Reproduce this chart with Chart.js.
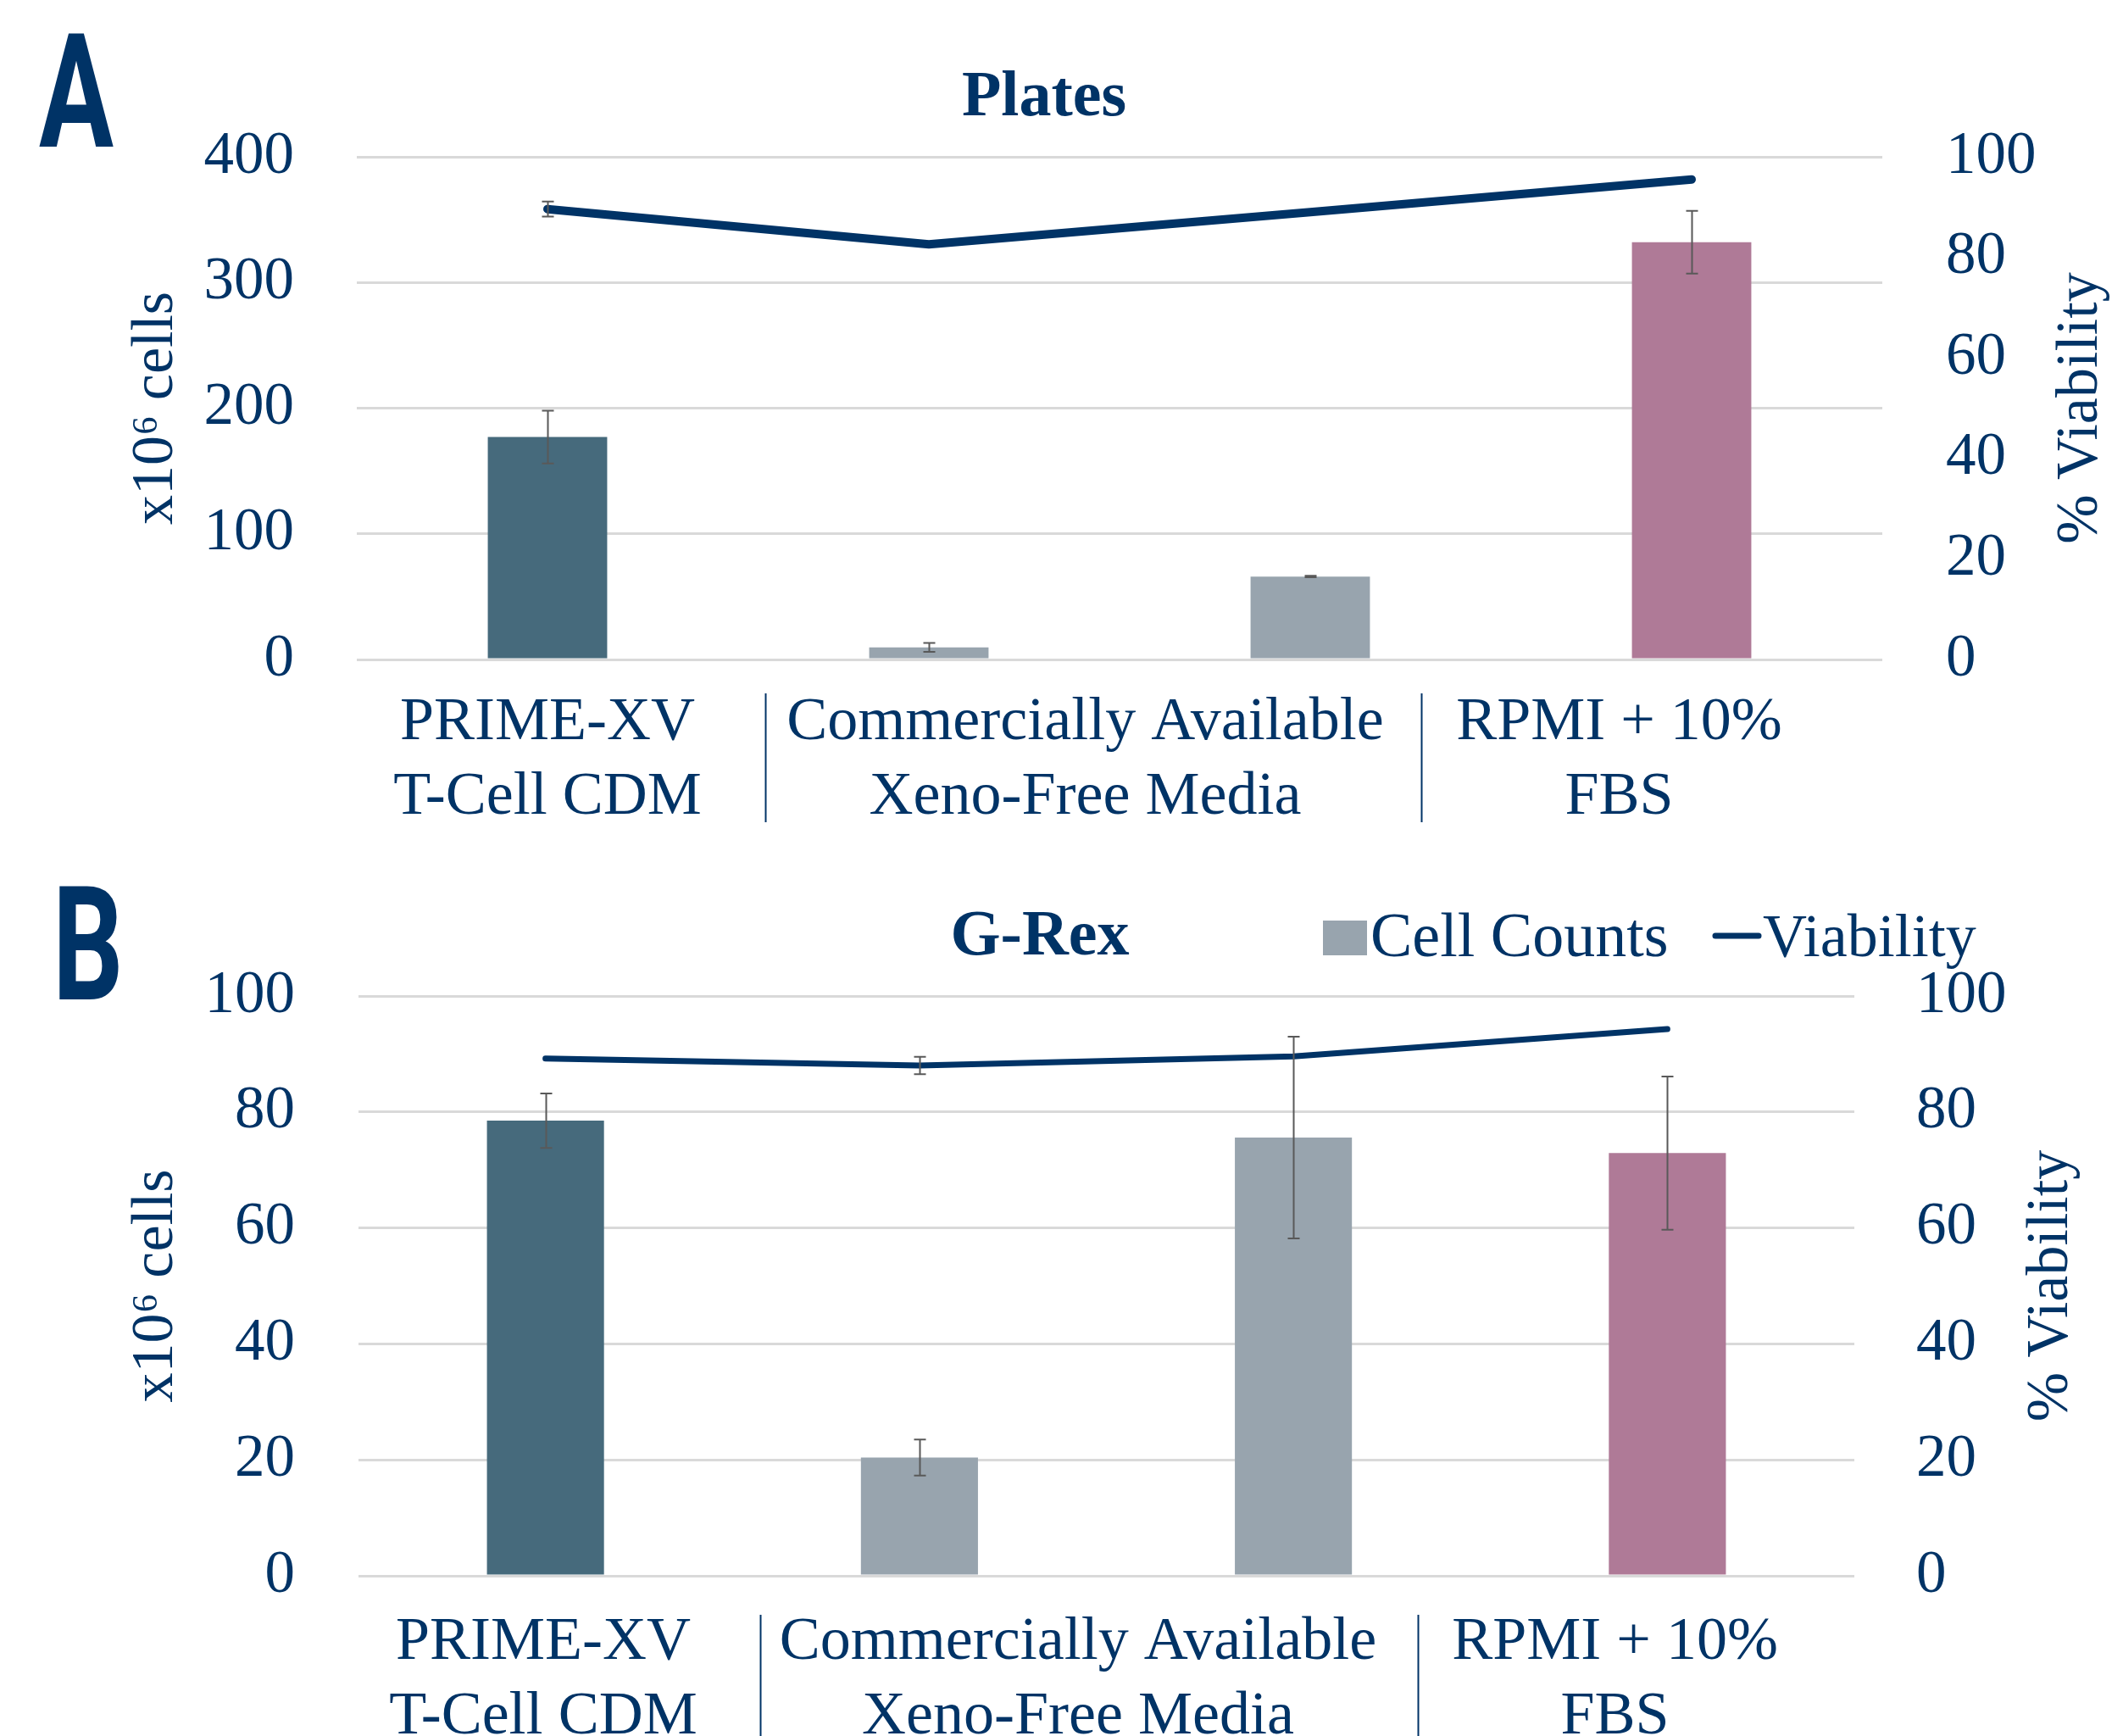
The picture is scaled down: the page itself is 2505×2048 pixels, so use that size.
<!DOCTYPE html>
<html><head><meta charset="utf-8">
<script src="https://cdn.jsdelivr.net/npm/chart.js@4.4.1/dist/chart.umd.min.js"></script>
<style>
html,body{margin:0;padding:0;background:#fff;}
#wrap{position:relative;width:2505px;height:2048px;overflow:hidden;background:#fff;}
canvas{position:absolute;left:0;}
#cA{top:0;} #cB{top:1000px;}
.panel{position:absolute;font-family:Roboto,"Liberation Sans",sans-serif;font-weight:700;font-size:187px;line-height:1;color:#003366;transform:scaleX(0.70);transform-origin:0 0;}
</style></head><body>
<div id="wrap">
<canvas id="cA" width="2505" height="1000"></canvas>
<canvas id="cB" width="2505" height="1048"></canvas>
<div class="panel" style="left:46px;top:16px">A</div>
<div class="panel" style="left:62px;top:1022px">B</div>
</div>
<script>
// ---------- data ----------
const categories = ['PRIME-XV T-Cell CDM', 'Xeno-Free Media (1)', 'Xeno-Free Media (2)', 'RPMI + 10% FBS'];
const groupLabels = [['PRIME-XV', 'T-Cell CDM'], ['Commercially Available', 'Xeno-Free Media'], ['RPMI + 10%', 'FBS']];

const platesCounts = [177, 9.6, 66, 332];
const platesCountsErr = [21, 3.5, 0.6, 25];
const platesViability = [89.6, 82.6, 89.0, 95.5];
const platesViabilityErr = [1.5, 0, 0, 0];

const grexCounts = [78.5, 20.4, 75.6, 72.9];
const grexCountsErr = [4.7, 3.1, 17.4, 13.2];
const grexViability = [89.2, 88.0, 89.6, 94.3];
const grexViabilityErr = [0, 1.5, 0, 0];

const platesLeftTicks = [0, 100, 200, 300, 400];
const grexLeftTicks = [0, 20, 40, 60, 80, 100];
const viabilityTicks = [0, 20, 40, 60, 80, 100];

// ---------- styles ----------
const NAVY = '#003366';
const ERR = '#595959';
const GRID = '#D9D9D9';
const SERIF = '"Liberation Serif", "DejaVu Serif", serif';
const barColors = ['#466A7C', '#98A4AE', '#98A4AE', '#AF7A97'];

function buildChart(id, p) {
  const panel = {
    id: 'panel_' + id,
    afterDatasetsDraw(chart) {
      const ctx = chart.ctx, xS = chart.scales.x;
      const sets = [[p.counts, p.countsErr, 'y'], [p.viab, p.viabErr, 'y1']];
      ctx.save();
      ctx.strokeStyle = ERR; ctx.lineWidth = 2;
      sets.forEach(([vals, errs, ax]) => {
        const yS = chart.scales[ax];
        vals.forEach((v, i) => {
          const e = errs[i]; if (!e) return;
          const x = Math.round(xS.getPixelForValue(i)) + 0.5;
          const yt = yS.getPixelForValue(v + e), yb = yS.getPixelForValue(v - e);
          ctx.beginPath();
          ctx.moveTo(x, yt); ctx.lineTo(x, yb);
          ctx.moveTo(x - 7, yt); ctx.lineTo(x + 7, yt);
          ctx.moveTo(x - 7, yb); ctx.lineTo(x + 7, yb);
          ctx.stroke();
        });
      });
      ctx.restore();
    },
    afterDraw(chart) {
      const ctx = chart.ctx, a = chart.chartArea, xS = chart.scales.x;
      ctx.save();
      ctx.fillStyle = NAVY;
      ctx.textAlign = 'center'; ctx.textBaseline = 'alphabetic';
      ctx.font = 'bold 76px ' + SERIF;
      ctx.fillText(p.title, p.titleX, p.titleBase);
      // right axis title (reads bottom to top)
      ctx.save();
      ctx.translate(p.rightTitleX, (a.top + a.bottom) / 2);
      ctx.rotate(-Math.PI / 2);
      ctx.font = '70px ' + SERIF; ctx.textBaseline = 'middle';
      ctx.fillText('% Viability', 0, 0);
      ctx.restore();
      // multi-level category labels
      ctx.font = '72px ' + SERIF; ctx.textBaseline = 'alphabetic';
      groupLabels.forEach((lines, g) => {
        const x = xS.getPixelForValue(p.groupPos[g]);
        lines.forEach((t, k) => ctx.fillText(t, x, a.bottom + p.labelBase[k]));
      });
      ctx.strokeStyle = NAVY; ctx.lineWidth = 2;
      p.sepPos.forEach(v => {
        const x = Math.round(xS.getPixelForValue(v)) + 0.5;
        ctx.beginPath(); ctx.moveTo(x, a.bottom + p.sepY[0]); ctx.lineTo(x, a.bottom + p.sepY[1]); ctx.stroke();
      });
      // legend
      if (p.legend) {
        const ds = chart.data.datasets;
        ctx.fillStyle = barColors[1];
        ctx.fillRect(1561, 86, 52, 41);
        ctx.fillStyle = NAVY; ctx.textAlign = 'left';
        ctx.font = '74px ' + SERIF;
        ctx.fillText(ds[0].label, 1617, 128);
        ctx.strokeStyle = NAVY; ctx.lineWidth = 7; ctx.lineCap = 'round';
        ctx.beginPath(); ctx.moveTo(2024, 104); ctx.lineTo(2075, 104); ctx.stroke();
        ctx.font = '72px ' + SERIF;
        ctx.fillText(ds[1].label, 2080, 128);
      }
      ctx.restore();
    }
  };

  return new Chart(document.getElementById(id), {
    type: 'bar',
    data: {
      labels: categories,
      datasets: [
        { type: 'bar', label: 'Cell Counts', data: p.counts, backgroundColor: barColors,
          yAxisID: 'y', barPercentage: 0.313, categoryPercentage: 1, order: 1 },
        { type: 'line', label: 'Viability', data: p.viab, borderColor: NAVY, backgroundColor: NAVY,
          borderWidth: p.lineWidth, pointRadius: 0, tension: 0, borderCapStyle: 'round',
          borderJoinStyle: 'round', yAxisID: 'y1', order: 0 }
      ]
    },
    options: {
      responsive: false, maintainAspectRatio: false, animation: false,
      layout: { padding: { top: p.top, bottom: 0, left: 0, right: 0 } },
      plugins: { legend: { display: false }, title: { display: false }, tooltip: { enabled: false } },
      scales: {
        x: {
          ticks: { display: false }, grid: { display: false }, border: { display: false },
          afterFit(s) { s.height = p.xHeight; }
        },
        y: {
          position: 'left', min: p.leftTicks[0], max: p.leftTicks[p.leftTicks.length - 1],
          afterBuildTicks(s) { s.ticks = p.leftTicks.map(v => ({ value: v })); },
          ticks: { color: NAVY, font: { family: SERIF, size: 71 }, padding: p.leftPad },
          grid: { color: GRID, lineWidth: 3, drawTicks: false }, border: { display: false },
          title: { display: true, text: 'x10\u2076 cells', color: NAVY, font: { family: SERIF, size: 70 },
                   padding: { top: 143, bottom: 0 } },
          afterFit(s) { s.width = p.leftWidth; }
        },
        y1: {
          position: 'right', min: viabilityTicks[0], max: viabilityTicks[viabilityTicks.length - 1],
          afterBuildTicks(s) { s.ticks = viabilityTicks.map(v => ({ value: v })); },
          ticks: { color: NAVY, font: { family: SERIF, size: 71 }, padding: p.rightPad },
          grid: { display: false, drawTicks: false }, border: { display: false },
          afterFit(s) { s.width = p.rightWidth; }
        }
      }
    },
    plugins: [panel]
  });
}

buildChart('cA', {
  counts: platesCounts, countsErr: platesCountsErr, viab: platesViability, viabErr: platesViabilityErr,
  leftTicks: platesLeftTicks, title: 'Plates', titleX: 1232, titleBase: 136,
  top: 185, xHeight: 222, leftWidth: 421, rightWidth: 284, leftPad: 74, rightPad: 75,
  lineWidth: 10, rightTitleX: 2456,
  groupPos: [0.0, 1.41, 2.81], sepPos: [0.571, 2.291], labelBase: [94, 182], sepY: [40, 192],
  legend: false
});

buildChart('cB', {
  counts: grexCounts, countsErr: grexCountsErr, viab: grexViability, viabErr: grexViabilityErr,
  leftTicks: grexLeftTicks, title: 'G-Rex', titleX: 1227, titleBase: 126,
  top: 175, xHeight: 189, leftWidth: 423, rightWidth: 317, leftPad: 75, rightPad: 73,
  lineWidth: 7, rightTitleX: 2421,
  groupPos: [-0.006, 1.424, 2.86], sepPos: [0.574, 2.333], labelBase: [98, 186], sepY: [46, 200],
  legend: true
});
</script>
</body></html>
